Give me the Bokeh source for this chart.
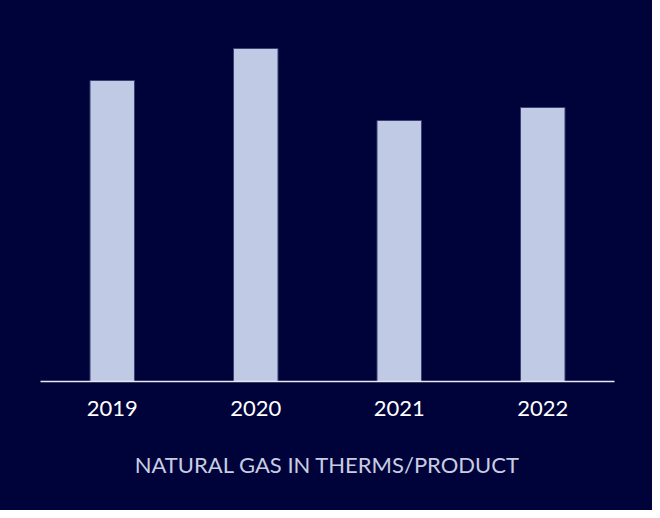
from bokeh.plotting import figure
from bokeh.models import Range1d, ColumnDataSource
from bokeh.embed import file_html
from bokeh.resources import INLINE

years = ["2019", "2020", "2021", "2022"]
therms = [301, 333, 261, 274]
axis_title = "NATURAL GAS IN THERMS/PRODUCT"

BG = "#00033a"
BAR = "#c1cae4"

src = ColumnDataSource(dict(year=years, value=therms))

p = figure(x_range=years, y_range=Range1d(0, 381), width=652, height=510,
           output_backend="svg", toolbar_location=None,
           background_fill_color=BG, border_fill_color=BG,
           min_border_left=40, min_border_right=38, min_border_top=0,
           min_border_bottom=129)
p.styles = {"background-color": BG}
p.outline_line_color = None
p.vbar(x="year", top="value", width=0.31, source=src,
       fill_color=BAR, line_color="#3a4278", line_width=1)

p.yaxis.visible = False
p.grid.visible = False
p.x_range.range_padding = 0

ax = p.xaxis[0]
ax.axis_line_color = "#e6e9f4"
ax.axis_line_width = 1.5
ax.major_tick_line_color = None
ax.minor_tick_line_color = None
ax.major_tick_out = 0
ax.major_label_standoff = 19
ax.major_label_text_color = "#ffffff"
ax.major_label_text_font = "Lato"
ax.major_label_text_font_size = "22px"
ax.axis_label = axis_title
ax.axis_label_text_color = "#c9cde2"
ax.axis_label_text_font = "Lato"
ax.axis_label_text_font_size = "22px"
ax.axis_label_text_font_style = "normal"
ax.axis_label_standoff = 32

open("out.html", "w").write(file_html(p, INLINE))
